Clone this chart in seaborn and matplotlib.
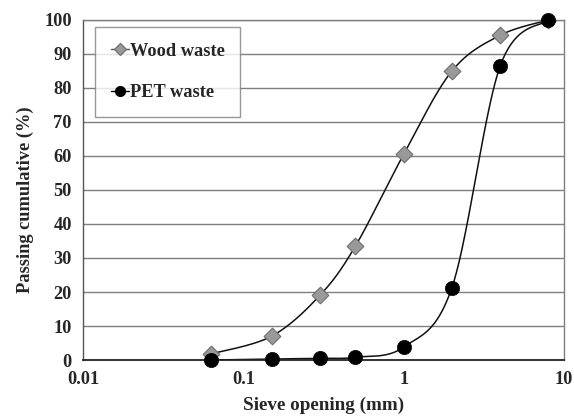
import numpy as np
import pandas as pd
import matplotlib
matplotlib.use("Agg")
import matplotlib.pyplot as plt
from matplotlib.lines import Line2D
import seaborn as sns

# Sieve openings (mm) and cumulative passing (%)
sieve_mm = [0.063, 0.15, 0.3, 0.5, 1, 2, 4, 8]
wood_waste = [1.8, 7.0, 19.0, 33.5, 60.5, 85.0, 95.5, 100.0]
pet_waste = [0.0, 0.3, 0.5, 0.8, 3.8, 21.3, 86.5, 100.0]
y_ticks = list(range(0, 101, 10))
x_ticks = [0.01, 0.1, 1, 10]
x_tick_labels = ["0.01", "0.1", "1", "10"]

sns.set_style("white")
plt.rcParams["font.family"] = ["Liberation Serif", "DejaVu Serif"]
plt.rcParams["font.weight"] = "bold"

FS = 13.2

fig = plt.figure(figsize=(5.74, 4.19), dpi=100)
ax = fig.add_axes([0.1446, 0.1408, 0.838, 0.8115])


def smooth_curve(xs, ys, n=40):
    """Catmull-Rom curve through the points, in log-x space."""
    lx = np.log10(np.asarray(xs, float))
    # scale to comparable units (decades vs percent)
    sx = lx * 160.3
    sy = np.asarray(ys, float) * 3.4
    P = np.column_stack([sx, sy])
    P = np.vstack([P[0], P, P[-1]])
    out = []
    for i in range(1, len(P) - 2):
        p0, p1, p2, p3 = P[i - 1], P[i], P[i + 1], P[i + 2]
        t = np.linspace(0, 1, n)[:, None]
        c1 = p1 + (p2 - p0) / 6.0
        c2 = p2 - (p3 - p1) / 6.0
        seg = ((1 - t) ** 3) * p1 + 3 * ((1 - t) ** 2) * t * c1 + 3 * (1 - t) * t ** 2 * c2 + t ** 3 * p2
        out.append(seg)
    seg = np.vstack(out)
    return 10 ** (seg[:, 0] / 160.3), seg[:, 1] / 3.4


for yy in y_ticks[1:]:
    ax.axhline(yy, color="#7f7f7f", lw=1.0, zorder=1)

wx, wy = smooth_curve(sieve_mm, wood_waste)
px, py = smooth_curve(sieve_mm, pet_waste)
ax.plot(wx, wy, color="#111111", lw=1.1, zorder=2)
ax.plot(px, py, color="#111111", lw=1.1, zorder=2)

df_w = pd.DataFrame({"x": sieve_mm, "y": wood_waste})
df_p = pd.DataFrame({"x": sieve_mm, "y": pet_waste})
sns.scatterplot(data=df_w, x="x", y="y", ax=ax, marker="D", s=72,
                color="#999999", edgecolor="#6e6e6e", linewidth=0.8, zorder=3)
sns.scatterplot(data=df_p, x="x", y="y", ax=ax, marker="o", s=105,
                color="#000000", edgecolor="#000000", linewidth=0.5, zorder=4,
                clip_on=False)

ax.set_xscale("log")
ax.set_xlim(0.01, 10)
ax.set_ylim(0, 100)
ax.set_xticks(x_ticks)
ax.set_xticklabels(x_tick_labels)
ax.minorticks_off()
ax.set_yticks(y_ticks)
ax.tick_params(axis="both", labelsize=FS, direction="out", length=5,
               width=1, color="#555555", pad=3)
for lbl in ax.get_xticklabels() + ax.get_yticklabels():
    lbl.set_fontweight("bold")

for side in ["left", "right", "top"]:
    ax.spines[side].set_color("#7f7f7f")
    ax.spines[side].set_linewidth(1.0)
ax.spines["bottom"].set_color("#222222")
ax.spines["bottom"].set_linewidth(1.3)
ax.spines["left"].set_color("#555555")

ax.set_xlabel("Sieve opening (mm)", fontsize=FS + 0.6, fontweight="bold")
ax.xaxis.set_label_coords(0.5, -0.107)
ax.set_ylabel("Passing cumulative (%)", fontsize=FS, fontweight="bold")
ax.yaxis.set_label_coords(-0.102, 0.47)

handles = [
    Line2D([0], [0], color="#555555", lw=1.0, marker="D", markersize=6,
           markerfacecolor="#999999", markeredgecolor="#777777"),
    Line2D([0], [0], color="#000000", lw=1.0, marker="o", markersize=7,
           markerfacecolor="#000000", markeredgecolor="#000000"),
]
leg = ax.legend(handles, ["Wood waste", "PET waste"], loc="upper left",
                bbox_to_anchor=(0.025, 0.979), borderaxespad=0.0,
                frameon=True, fancybox=False,
                handlelength=1.0, handletextpad=0.05, labelspacing=1.35,
                borderpad=0.85, prop={"size": FS, "weight": "bold"})
leg.get_frame().set_edgecolor("#7f7f7f")
leg.get_frame().set_linewidth(1.0)

fig.savefig("out.png", dpi=100)
